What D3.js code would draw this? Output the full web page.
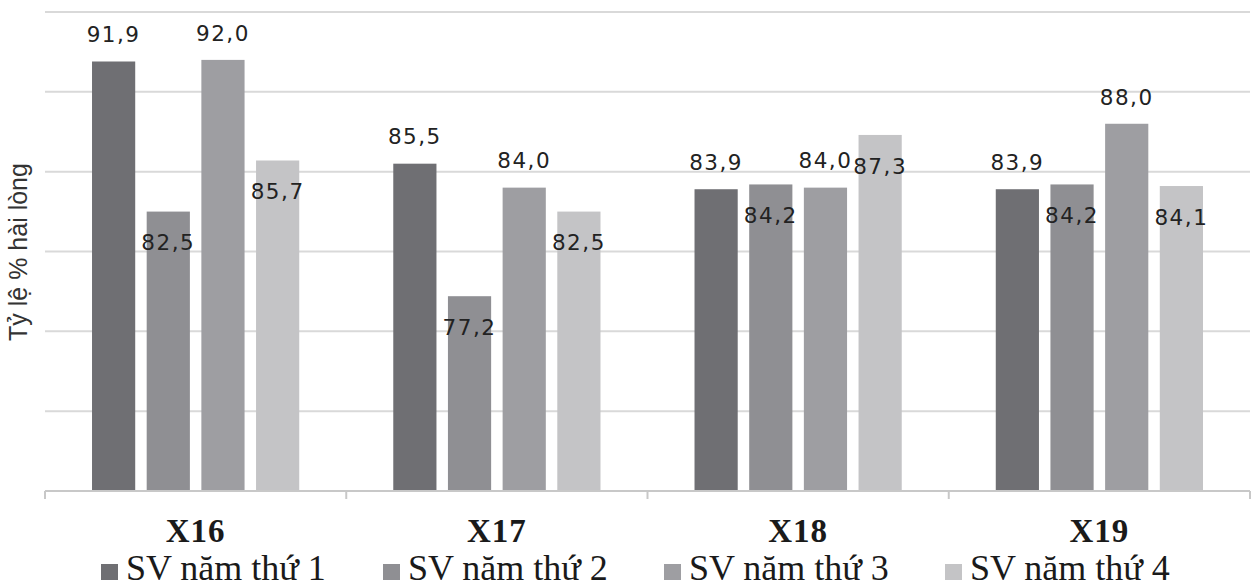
<!DOCTYPE html>
<html>
<head>
<meta charset="utf-8">
<script src="https://cdn.jsdelivr.net/npm/d3@7"></script>
<style>
  html, body { margin: 0; padding: 0; background: #fff; }
  svg { display: block; }
</style>
</head>
<body>
<svg id="chart" width="1259" height="588"></svg>
<script>
// ---- data ----
const categories = ["X16", "X17", "X18", "X19"];
const seriesNames = ["SV năm thứ 1", "SV năm thứ 2", "SV năm thứ 3", "SV năm thứ 4"];
const sv1 = [91.9, 85.5, 83.9, 83.9];
const sv2 = [82.5, 77.2, 84.2, 84.2];
const sv3 = [92.0, 84.0, 84.0, 88.0];
const sv4 = [85.7, 82.5, 87.3, 84.1];
const seriesValues = [sv1, sv2, sv3, sv4];
const yTicks = [65, 70, 75, 80, 85, 90, 95];
const labelPlacement = ["out", "in", "out", "in"];
const colors = ["#6f6f73", "#8f8f93", "#9e9ea2", "#c4c4c6"];

// ---- layout ----
const svg = d3.select("#chart");
const plotLeft = 45, plotRight = 1250, plotTop = 12, plotBottom = 491;

const x0 = d3.scaleBand().domain(categories).range([plotLeft, plotRight]).paddingInner(0).paddingOuter(0);
const x1 = d3.scaleBand().domain(d3.range(seriesNames.length)).range([0, x0.bandwidth()])
  .paddingInner(0.21).paddingOuter(0.86);
const y = d3.scaleLinear().domain([65, 95]).range([plotBottom, plotTop]);

// gridlines
svg.append("g")
  .selectAll("line")
  .data(yTicks.slice(1))
  .join("line")
  .attr("x1", plotLeft).attr("x2", plotRight)
  .attr("y1", d => y(d)).attr("y2", d => y(d))
  .attr("stroke", "#d9d9d9").attr("stroke-width", 2);

// bars
const rows = [];
categories.forEach((c, ci) => {
  seriesValues.forEach((vals, si) => rows.push({ c, si, v: vals[ci] }));
});

svg.append("g")
  .selectAll("rect")
  .data(rows)
  .join("rect")
  .attr("x", d => x0(d.c) + x1(d.si))
  .attr("y", d => y(d.v))
  .attr("width", x1.bandwidth())
  .attr("height", d => y(65) - y(d.v))
  .attr("fill", d => colors[d.si]);

// x axis baseline with category-boundary ticks
const axis = d3.axisBottom(x0).tickSize(0).tickFormat("");
const gx = svg.append("g").attr("transform", `translate(0,${plotBottom})`).call(axis);
gx.select(".domain").remove();
gx.append("line").attr("x1", plotLeft).attr("x2", plotRight).attr("y1", 0).attr("y2", 0)
  .attr("stroke", "#c8c8c8").attr("stroke-width", 2);
const bounds = categories.map(c => x0(c)).concat([plotRight]);
gx.selectAll(".bnd").data(bounds).join("line").attr("class", "bnd")
  .attr("x1", d => d).attr("x2", d => d).attr("y1", 0).attr("y2", 8)
  .attr("stroke", "#c8c8c8").attr("stroke-width", 2);

// category labels
svg.append("g")
  .selectAll("text")
  .data(categories)
  .join("text")
  .attr("x", d => x0(d) + x0.bandwidth() / 2)
  .attr("y", 542)
  .attr("text-anchor", "middle")
  .attr("font-family", "'Liberation Serif', 'Times New Roman', serif")
  .attr("font-weight", "bold")
  .attr("font-size", 33)
  .attr("letter-spacing", 1)
  .attr("fill", "#1a1a1a")
  .text(d => d);

// data labels
svg.append("g")
  .selectAll("text")
  .data(rows)
  .join("text")
  .attr("x", d => x0(d.c) + x1(d.si) + x1.bandwidth() / 2)
  .attr("y", d => labelPlacement[d.si] === "out" ? y(d.v) - 27 : y(d.v) + 31)
  .attr("dy", "0.36em")
  .attr("text-anchor", "middle")
  .attr("font-family", "'DejaVu Sans', sans-serif")
  .attr("font-size", 21.5)
  .attr("letter-spacing", 1.5)
  .attr("fill", "#222")
  .text(d => d3.format(".1f")(d.v).replace(".", ","));

// y-axis title
svg.append("text")
  .attr("transform", `translate(18,252) rotate(-90)`)
  .attr("dy", "0.36em")
  .attr("text-anchor", "middle")
  .attr("font-family", "'Liberation Sans', Arial, sans-serif")
  .attr("font-size", 25)
  .attr("fill", "#333")
  .text("Tỷ lệ % hài lòng");

// legend
const legendX = [101, 383, 664, 945];
const lg = svg.append("g")
  .selectAll("g")
  .data(seriesNames)
  .join("g")
  .attr("transform", (d, i) => `translate(${legendX[i]},0)`);
lg.append("rect").attr("x", 0).attr("y", 564).attr("width", 17).attr("height", 16)
  .attr("fill", (d, i) => colors[i]);
lg.append("text").attr("x", 25).attr("y", 580)
  .attr("font-family", "'Liberation Serif', 'Times New Roman', serif")
  .attr("font-size", 36)
  .attr("fill", "#1a1a1a")
  .text(d => d);
</script>
</body>
</html>
